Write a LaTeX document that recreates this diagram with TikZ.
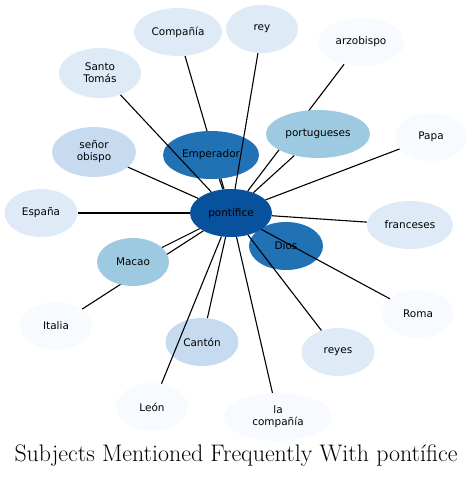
\documentclass[tikz,border=0pt]{standalone}
\usepackage{fontspec}
\usepackage{tikz}
\usetikzlibrary{shapes.geometric}
\newfontfamily\labelfont{DejaVu Sans}
\definecolor{blueA}{HTML}{08519C}
\definecolor{blueB}{HTML}{2171B5}
\definecolor{blueC}{HTML}{9ECAE1}
\definecolor{blueD}{HTML}{C6DBEF}
\definecolor{blueE}{HTML}{DEEBF7}
\definecolor{blueF}{HTML}{F7FBFF}
\pgfdeclarelayer{background}
\pgfsetlayers{background,main}

\begin{document}
\begin{tikzpicture}[x=1bp, y=-1bp,
  subject/.style={ellipse, fill=#1, minimum height=48bp, inner sep=0pt, align=center, font=\labelfont\fontsize{10.5}{12}\selectfont},
  link/.style={line width=1.1bp}
]
\useasboundingbox (0,0) rectangle (473,478);
\node[subject=blueB, minimum width=74bp] (dios) at (286,246) {Dios};
\node[subject=blueA, minimum width=82bp] (pontifice) at (231,213) {pontífice};
\node[subject=blueB, minimum width=96bp] (emperador) at (211,155) {Emperador};
\node[subject=blueC, minimum width=104bp] (portugueses) at (318,134) {portugueses};
\node[subject=blueC, minimum width=72bp] (macao) at (133,262) {Macao};
\node[subject=blueD, minimum width=84bp, minimum height=50bp] (obispo) at (94,152) {señor\\obispo};
\node[subject=blueD, minimum width=73bp] (canton) at (202,342) {Cantón};
\node[subject=blueE, minimum width=88bp] (compania) at (178,32) {Compañía};
\node[subject=blueE, minimum width=82bp, minimum height=50bp] (santo) at (100,73) {Santo\\Tomás};
\node[subject=blueE, minimum width=72bp] (rey) at (262,29) {rey};
\node[subject=blueE, minimum width=73bp] (espana) at (41,213) {España};
\node[subject=blueE, minimum width=86bp] (franceses) at (410,225) {franceses};
\node[subject=blueE, minimum width=73bp] (reyes) at (338,352) {reyes};
\node[subject=blueF, minimum width=86bp] (arzobispo) at (361,42) {arzobispo};
\node[subject=blueF, minimum width=72bp] (papa) at (431,137) {Papa};
\node[subject=blueF, minimum width=72bp] (roma) at (418,314) {Roma};
\node[subject=blueF, minimum width=72bp] (italia) at (56,326) {Italia};
\node[subject=blueF, minimum width=72bp] (leon) at (152,407) {León};
\node[subject=blueF, minimum width=108bp] (lacompania) at (278,417) {la\\compañía};

\begin{pgfonlayer}{background}
\foreach \n in {compania,arzobispo,italia}
  \draw[link] (pontifice) -- (\n);
\end{pgfonlayer}
\foreach \n in {emperador,portugueses,macao,santo,rey,papa,franceses,roma,reyes,lacompania,canton,leon,obispo,espana}
  \draw[link] (pontifice) -- (\n);

\node[font=\fontsize{24}{28}\selectfont] (title) at (236,456) {Subjects Mentioned Frequently With pontífice};
\end{tikzpicture}
\end{document}
